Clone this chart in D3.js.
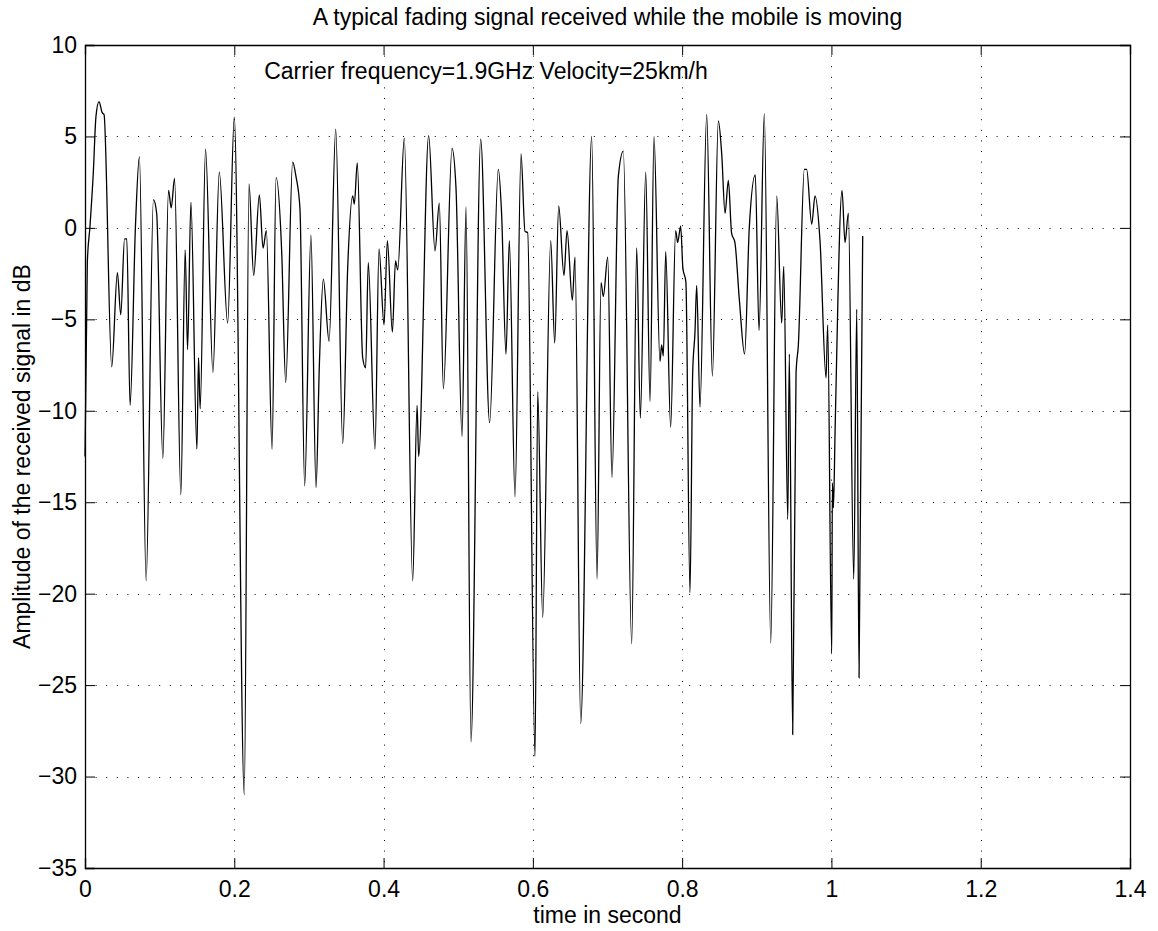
<!DOCTYPE html>
<html>
<head>
<meta charset="utf-8">
<script src="https://cdn.jsdelivr.net/npm/d3@7"></script>
<style>
  body { margin: 0; background: #fff; }
  text { font-family: "Liberation Sans", Arial, sans-serif; fill: #000; }
</style>
</head>
<body>
<div id="chart"></div>
<script>

var width = 1158;
var height = 931;

// sample times (s) and received amplitude (dB)
var times = [
  0.0000, 0.0031, 0.0067, 0.0111, 0.0147, 0.0188, 0.0230, 0.0255, 0.0358, 0.0434,
  0.0479, 0.0530, 0.0560, 0.0604, 0.0676, 0.0729, 0.0819, 0.0917, 0.0960, 0.1043,
  0.1119, 0.1155, 0.1200, 0.1284, 0.1342, 0.1374, 0.1419, 0.1499, 0.1521, 0.1543,
  0.1615, 0.1714, 0.1799, 0.1911, 0.2000, 0.2134, 0.2197, 0.2260, 0.2336, 0.2385,
  0.2430, 0.2506, 0.2560, 0.2635, 0.2689, 0.2782, 0.2827, 0.2880, 0.2943, 0.3027,
  0.3095, 0.3139, 0.3193, 0.3270, 0.3359, 0.3453, 0.3520, 0.3586, 0.3608, 0.3648,
  0.3720, 0.3760, 0.3795, 0.3885, 0.3939, 0.4006, 0.4051, 0.4118, 0.4160, 0.4190,
  0.4278, 0.4390, 0.4449, 0.4470, 0.4604, 0.4689, 0.4747, 0.4801, 0.4917, 0.4970,
  0.5051, 0.5105, 0.5171, 0.5301, 0.5421, 0.5537, 0.5582, 0.5640, 0.5685, 0.5761,
  0.5841, 0.5895, 0.5930, 0.6029, 0.6065, 0.6132, 0.6239, 0.6293, 0.6346, 0.6417,
  0.6458, 0.6529, 0.6565, 0.6641, 0.6788, 0.6860, 0.6913, 0.6944, 0.7003, 0.7060,
  0.7145, 0.7212, 0.7324, 0.7391, 0.7440, 0.7512, 0.7570, 0.7623, 0.7703, 0.7725,
  0.7748, 0.7780, 0.7846, 0.7913, 0.7940, 0.7980, 0.8010, 0.8050, 0.8105, 0.8141,
  0.8172, 0.8195, 0.8239, 0.8329, 0.8405, 0.8485, 0.8530, 0.8575, 0.8619, 0.8663,
  0.8707, 0.8766, 0.8837, 0.8900, 0.8980, 0.9030, 0.9101, 0.9187, 0.9267, 0.9334,
  0.9361, 0.9415, 0.9436, 0.9481, 0.9526, 0.9557, 0.9637, 0.9668, 0.9736, 0.9780,
  0.9847, 0.9928, 0.9950, 1.0004, 1.0013, 1.0027, 1.0049, 1.0142, 1.0182, 1.0227,
  1.0299, 1.0339, 1.0370, 1.0419
];

var amplitude = [
  -12.5, -1.9, 0.1, 3.0, 6.1, 6.9, 6.3, 6.2, -7.6, -2.45,
  -4.75, -0.6, -0.6, -9.7, 0.1, 3.9, -19.3, 1.55, 0.8, -12.6,
  2.05, 1.1, 2.7, -14.6, -1.2, -6.65, 1.4, -12.1, -7.1, -9.9,
  4.3, -7.9, 3.05, -5.2, 6.05, -31.0, 2.4, -2.6, 1.8, -1.1,
  -0.15, -12.1, 2.75, -1.3, -8.45, 3.6, 2.8, 1.05, -14.1, -0.4,
  -14.2, -7.6, -2.8, -6.2, 5.4, -11.8, -2.1, 1.75, 1.3, 3.55,
  -7.1, -7.65, -1.9, -12.1, -1.15, -5.3, -0.7, -5.7, -1.8, -2.3,
  4.9, -19.3, -9.7, -12.5, 5.05, -1.25, 1.35, -8.8, 4.35, 2.2,
  -11.4, 1.15, -28.1, 4.85, -10.65, 3.2, 0.7, -6.9, -0.7, -14.7,
  4.05, -0.2, -0.25, -28.9, -8.95, -21.3, -0.7, -6.3, 1.2, -2.6,
  -0.15, -3.95, -1.6, -27.1, 5.0, -19.2, -3.0, -3.75, -1.6, -13.65,
  2.8, 4.2, -22.75, -1.1, -10.4, 3.05, -9.5, 5.0, -7.3, -6.4,
  -7.0, -1.3, -10.9, -0.15, -0.8, 0.1, -2.2, -2.95, -19.95, -7.95,
  -5.7, -3.15, -9.8, 6.2, -8.1, 5.85, 4.05, 0.8, 2.6, -0.3,
  -0.8, -3.9, -6.9, 0.05, 2.9, -5.6, 6.25, -22.7, 1.75, -5.2,
  -2.1, -15.95, -6.9, -27.7, -7.95, -6.4, 3.2, 3.2, 0.2, 1.75,
  -0.7, -8.2, -5.3, -23.3, -13.95, -15.3, -11.1, 2.05, -0.8, 0.8,
  -19.2, -4.45, -24.6, -0.45
];

var xTicks = [0, 0.2, 0.4, 0.6, 0.8, 1, 1.2, 1.4];
var yTicks = [-35, -30, -25, -20, -15, -10, -5, 0, 5, 10];

var titleText = "A typical fading signal received while the mobile is moving";
var noteText = "Carrier frequency=1.9GHz Velocity=25km/h";
var xLabelText = "time in second";
var yLabelText = "Amplitude of the received signal in dB";

var plotLeft = 85, plotRight = 1130, plotTop = 45, plotBottom = 868;
var fontSize = "23px";

var svg = d3.select("#chart")
  .append("svg")
  .attr("width", width)
  .attr("height", height);

var x = d3.scaleLinear().domain([0, 1.4]).range([plotLeft, plotRight]);
var y = d3.scaleLinear().domain([-35, 10]).range([plotBottom, plotTop]);

var fmt = function(d){ return d < 0 ? "\u2212" + Math.abs(d) : String(d); };

// dotted grid
var grid = svg.append("g").attr("class", "grid");
grid.selectAll("line.gx")
  .data(xTicks.slice(1, -1))
  .enter().append("line")
  .attr("x1", function(d){ return Math.round(x(d)) + 0.5; })
  .attr("x2", function(d){ return Math.round(x(d)) + 0.5; })
  .attr("y1", plotTop).attr("y2", plotBottom)
  .attr("stroke", "#000").attr("stroke-width", 1)
  .attr("stroke-dasharray", "1,9.6");
grid.selectAll("line.gy")
  .data(yTicks.slice(1, -1))
  .enter().append("line")
  .attr("y1", function(d){ return Math.round(y(d)) + 0.5; })
  .attr("y2", function(d){ return Math.round(y(d)) + 0.5; })
  .attr("x1", plotLeft).attr("x2", plotRight)
  .attr("stroke", "#000").attr("stroke-width", 1)
  .attr("stroke-dasharray", "1,9.6");

// axes: ticks inward on all four sides
var tickLen = 10;
var xAxisB = d3.axisBottom(x).tickValues(xTicks).tickSize(-tickLen).tickPadding(13).tickFormat(fmt);
var xAxisT = d3.axisTop(x).tickValues(xTicks).tickSize(-tickLen).tickFormat("");
var yAxisL = d3.axisLeft(y).tickValues(yTicks).tickSize(-tickLen).tickPadding(8).tickFormat(fmt);
var yAxisR = d3.axisRight(y).tickValues(yTicks).tickSize(-tickLen).tickFormat("");

var gB = svg.append("g").attr("transform", "translate(0," + plotBottom + ")").call(xAxisB);
var gT = svg.append("g").attr("transform", "translate(0," + plotTop + ")").call(xAxisT);
var gL = svg.append("g").attr("transform", "translate(" + plotLeft + ",0)").call(yAxisL);
var gR = svg.append("g").attr("transform", "translate(" + plotRight + ",0)").call(yAxisR);

[gB, gT, gL, gR].forEach(function(g){
  g.select(".domain").attr("stroke", "#000").attr("stroke-width", 1.3);
  g.selectAll(".tick line").attr("stroke", "#000").attr("stroke-width", 1);
  g.selectAll(".tick text")
    .style("font-family", "'Liberation Sans', Arial, sans-serif")
    .style("font-size", fontSize)
    .attr("fill", "#000");
});
gB.selectAll(".tick text").attr("dy", "0.71em");

// the fading signal
var points = times.map(function(t, i){ return [t, amplitude[i]]; });

var line = d3.line()
  .x(function(d){ return x(d[0]); })
  .y(function(d){ return y(d[1]); })
  .curve(d3.curveMonotoneX);

svg.append("path")
  .datum(points)
  .attr("d", line)
  .attr("fill", "none")
  .attr("stroke", "#000")
  .attr("stroke-width", 1.3);

// texts
svg.append("text")
  .attr("x", (plotLeft + plotRight) / 2)
  .attr("y", 25)
  .attr("text-anchor", "middle")
  .style("font-size", fontSize)
  .text(titleText);

svg.append("text")
  .attr("x", x(0.24))
  .attr("y", 79)
  .style("font-size", fontSize)
  .text(noteText);

svg.append("text")
  .attr("x", (plotLeft + plotRight) / 2)
  .attr("y", 923)
  .attr("text-anchor", "middle")
  .style("font-size", fontSize)
  .text(xLabelText);

svg.append("text")
  .attr("transform", "translate(29.5," + (plotTop + plotBottom) / 2 + ") rotate(-90)")
  .attr("text-anchor", "middle")
  .style("font-size", fontSize)
  .text(yLabelText);

</script>
</body>
</html>
